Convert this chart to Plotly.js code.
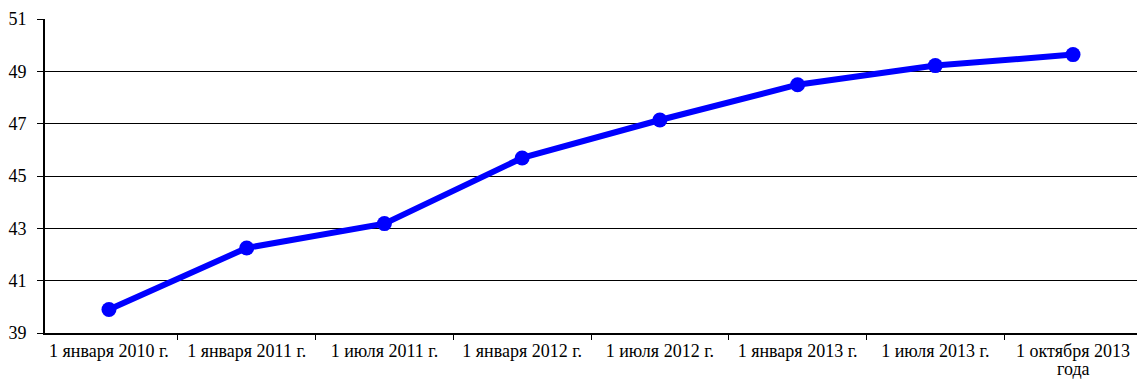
<!DOCTYPE html>
<html>
<head>
<meta charset="utf-8">
<script src="https://cdn.plot.ly/plotly-3.0.1.min.js"></script>
<style>
  html, body { margin: 0; padding: 0; background: #ffffff; }
  #chart { width: 1138px; height: 380px; }
</style>
</head>
<body>
<div id="chart"></div>
<script>
// Dates of observation (category axis)
const dates = [
  "1 января 2010 г.",
  "1 января 2011 г.",
  "1 июля 2011 г.",
  "1 января 2012 г.",
  "1 июля 2012 г.",
  "1 января 2013 г.",
  "1 июля 2013 г.",
  "1 октября 2013 года"
];

// First line of each axis label; the last date wraps onto a second line
const tickLines = [
  "1 января 2010 г.",
  "1 января 2011 г.",
  "1 июля 2011 г.",
  "1 января 2012 г.",
  "1 июля 2012 г.",
  "1 января 2013 г.",
  "1 июля 2013 г.",
  "1 октября 2013"
];
const wrappedTail = "года";

// Series values
const values = [39.9, 42.25, 43.18, 45.69, 47.14, 48.49, 49.22, 49.64];

// Y axis ticks
const yTicks = [39, 41, 43, 45, 47, 49, 51];

const serif = "'Liberation Serif', 'Times New Roman', Times, serif";

const trace = {
  type: "scatter",
  mode: "lines+markers",
  x: dates,
  y: values,
  line: { color: "#0000ff", width: 6 },
  marker: { color: "#0000ff", size: 15 },
  hoverinfo: "x+y",
  cliponaxis: false
};

const layout = {
  width: 1138,
  height: 380,
  margin: { l: 45, r: 1, t: 19, b: 47 },
  paper_bgcolor: "#ffffff",
  plot_bgcolor: "#ffffff",
  showlegend: false,
  font: { family: serif, size: 18, color: "#000000" },
  xaxis: {
    type: "category",
    tickson: "boundaries",
    tickmode: "array",
    tickvals: dates,
    ticktext: tickLines,
    ticks: "outside",
    ticklen: 5,
    tickwidth: 1,
    tickcolor: "#000000",
    showline: true,
    linecolor: "#000000",
    linewidth: 2,
    showgrid: false,
    zeroline: false,
    fixedrange: true,
    tickfont: { family: serif, size: 18, color: "#000000" }
  },
  yaxis: {
    range: [39, 51],
    tickvals: yTicks,
    ticktext: yTicks.map(String),
    ticks: "outside",
    ticklen: 6,
    tickwidth: 1,
    tickcolor: "#000000",
    ticklabelstandoff: 7,
    showline: true,
    linecolor: "#000000",
    linewidth: 2,
    showgrid: true,
    gridcolor: "#000000",
    gridwidth: 1,
    zeroline: false,
    fixedrange: true,
    tickfont: { family: serif, size: 18, color: "#000000" }
  },
  annotations: [{
    xref: "x",
    yref: "paper",
    x: dates[dates.length - 1],
    y: 0,
    yanchor: "middle",
    xanchor: "center",
    yshift: -36,
    text: wrappedTail,
    showarrow: false,
    font: { family: serif, size: 18, color: "#000000" }
  }]
};

Plotly.newPlot("chart", [trace], layout, { displayModeBar: false, staticPlot: true });
</script>
</body>
</html>
